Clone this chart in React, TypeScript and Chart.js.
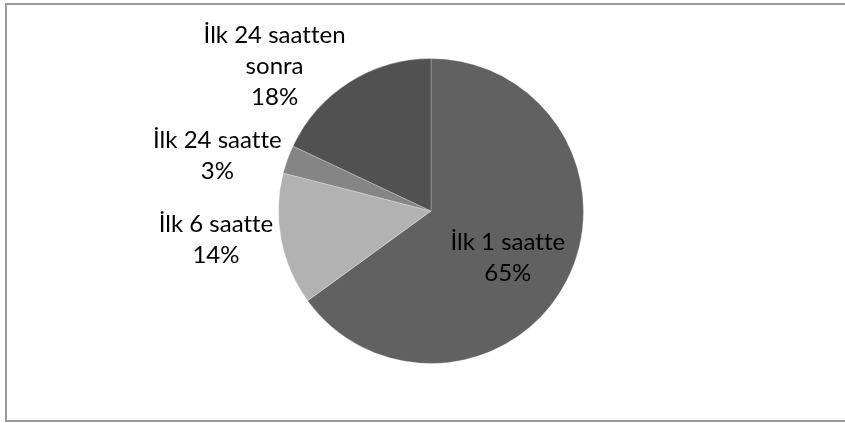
import React, { useEffect, useRef } from "react";
import { Chart, registerables } from "chart.js";

Chart.register(...registerables);

const categories = ["İlk 1 saatte", "İlk 6 saatte", "İlk 24 saatte", "İlk 24 saatten sonra"];
const labelLines = [["İlk 1 saatte"], ["İlk 6 saatte"], ["İlk 24 saatte"], ["İlk 24 saatten", "sonra"]];
const values = [65, 14, 3, 18];
const colors = ["#616161", "#b2b2b2", "#858585", "#515151"];

const FONT = "24px Lato, 'Open Sans', sans-serif";
const LINE_H = 31;
// small label nudges (px), like Excel's best-fit placement
const labelNudge = [
  [-2, 6],
  [-4, -7],
  [-5, 8],
  [-34, 27],
];

const labelPlugin = {
  id: "pieLabels",
  afterDatasetsDraw(chart: any) {
    const ctx = chart.ctx;
    const meta = chart.getDatasetMeta(0);
    const total = values.reduce((a, b) => a + b, 0);
    ctx.save();
    ctx.font = FONT;
    try {
      (ctx as any).letterSpacing = "0.01px";
    } catch (e) {}
    ctx.fillStyle = "#000";
    ctx.textAlign = "center";
    ctx.textBaseline = "alphabetic";
    meta.data.forEach((arc: any, i: number) => {
      const { x, y, startAngle, endAngle, outerRadius } = arc.getProps(
        ["x", "y", "startAngle", "endAngle", "outerRadius"],
        true
      );
      const mid = (startAngle + endAngle) / 2;
      const dx = Math.cos(mid);
      const dy = Math.sin(mid);
      const pct = Math.round((values[i] / total) * 100) + "%";
      const lines = [...labelLines[i], pct];
      const w = Math.max(...lines.map((l) => ctx.measureText(l).width));
      const h = lines.length * LINE_H;
      let cxl: number, cyl: number;
      if (values[i] / total > 0.3) {
        cxl = x + dx * outerRadius * 0.58;
        cyl = y + dy * outerRadius * 0.58;
      } else {
        const ax = x + dx * (outerRadius + 5);
        const ay = y + dy * (outerRadius + 5);
        cxl = ax + (dx * w) / 2;
        cyl = ay + (dy * h) / 2;
      }
      cxl += labelNudge[i][0];
      cyl += labelNudge[i][1];
      const n = lines.length;
      lines.forEach((l, k) => {
        ctx.fillText(l, cxl, cyl + (k - (n - 1) / 2) * LINE_H + 8);
      });
    });
    ctx.restore();
  },
};

export default function App() {
  const ref = useRef<HTMLCanvasElement>(null);
  useEffect(() => {
    document.body.style.margin = "0";
    const chart = new Chart(ref.current!, {
      type: "pie",
      data: {
        labels: categories,
        datasets: [
          {
            data: values,
            backgroundColor: colors,
            borderColor: "rgba(255,255,255,0.25)",
            borderWidth: 1,
          },
        ],
      },
      options: {
        animation: false,
        responsive: false,
        layout: { padding: { left: 17, right: 0, top: 58, bottom: 59 } },
        plugins: { legend: { display: false }, tooltip: { enabled: false } },
      },
      plugins: [labelPlugin],
    });
    return () => chart.destroy();
  }, []);
  return (
    <div style={{ position: "relative", width: 845, height: 423, overflow: "hidden", background: "#fff" }}>
      <div
        style={{
          position: "absolute",
          left: 5,
          top: 3,
          width: 860,
          height: 415,
          border: "2px solid #9a9a9a",
        }}
      />
      <canvas ref={ref} width={845} height={423} style={{ position: "absolute", left: 0, top: 0 }} />
    </div>
  );
}
